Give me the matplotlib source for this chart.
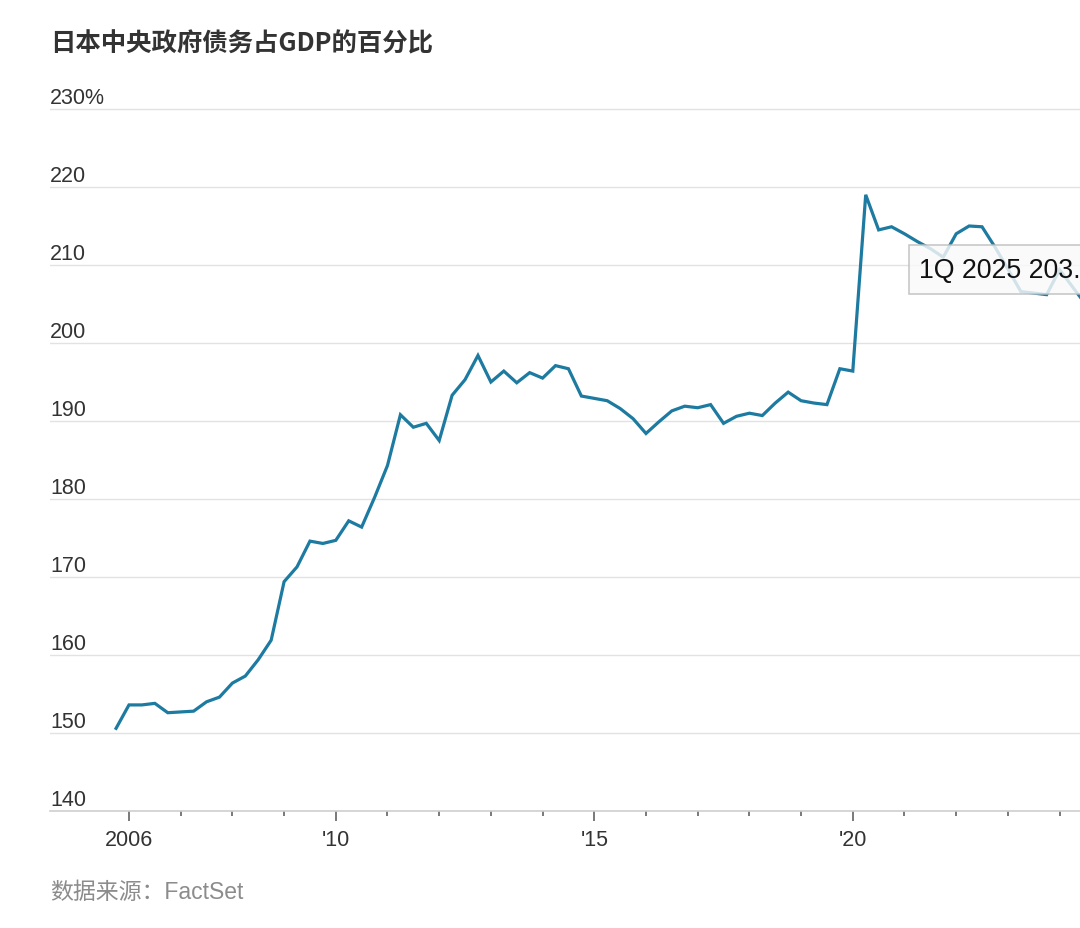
import matplotlib
matplotlib.use("Agg")
import matplotlib.pyplot as plt
import matplotlib.transforms as mtransforms
from matplotlib.patches import Rectangle

plt.rcParams['font.family'] = ['Liberation Sans', 'Noto Sans CJK SC', 'DejaVu Sans']

# quarterly data, 4Q 2005 .. 1Q 2025 (percent of GDP)
start_year = 2005.75
debt_pct = [
    150.6, 153.6, 153.6, 153.8, 152.6, 152.7, 152.8, 154.0, 154.6, 156.4,
    157.3, 159.4, 161.9, 169.4, 171.3, 174.6, 174.3, 174.7, 177.2, 176.4,
    180.2, 184.3, 190.8, 189.2, 189.7, 187.5, 193.3, 195.3, 198.4, 195.0,
    196.4, 194.9, 196.2, 195.5, 197.1, 196.7, 193.2, 192.9, 192.6, 191.6,
    190.3, 188.4, 189.9, 191.3, 191.9, 191.7, 192.1, 189.7, 190.6, 191.0,
    190.7, 192.3, 193.7, 192.6, 192.3, 192.1, 196.7, 196.4, 219.0, 214.5,
    214.9, 214.0, 213.0, 212.1, 211.0, 214.0, 215.0, 214.9, 212.3, 209.5,
    206.6, 206.4, 206.2, 209.4, 207.2, 205.0, 203.8, 203.0,
]
quarters = [start_year + 0.25 * i for i in range(len(debt_pct))]

major_years = [2006, 2010, 2015, 2020]
major_labels = ['2006', "'10", "'15", "'20"]
minor_years = [y for y in range(2006, 2025) if y not in major_years]

y_ticks = [140, 150, 160, 170, 180, 190, 200, 210, 220, 230]
y_labels = ['140', '150', '160', '170', '180', '190', '200', '210', '220', '230%']

title = '日本中央政府债务占GDP的百分比'
source = '数据来源：FactSet'
tooltip = '1Q 2025 203.0%'

W, H = 1080, 929
fig = plt.figure(figsize=(W / 100, H / 100), dpi=100)
fig.patch.set_facecolor('white')

# axes placed in pixel terms; runs past the right edge like the cropped original
ax = fig.add_axes([50 / W, (H - 812) / H, 1077 / W, (812 - 94.4) / H])
ax.set_xlim(2004.472, 2025.304)
ax.set_ylim(140, 232)

ax.plot(quarters, debt_pct, color='#1d7aa0', lw=2.3, solid_joinstyle='miter',
        zorder=3)

for s in ['top', 'right', 'left']:
    ax.spines[s].set_visible(False)
ax.spines['bottom'].set_color('#cfcfcf')
ax.spines['bottom'].set_linewidth(1.2)

ax.set_yticks(y_ticks)
ax.set_yticklabels([])
ax.tick_params(axis='y', length=0)
ax.grid(axis='y', color='#e2e2e2', lw=1)
ax.set_axisbelow(True)

ax.set_xticks(major_years)
ax.set_xticklabels(major_labels, fontsize=15.5, color='#333333')
ax.set_xticks(minor_years, minor=True)
ax.tick_params(axis='x', which='major', length=7, width=1.1, color='#555555',
               pad=6)
ax.tick_params(axis='x', which='minor', length=3.5, width=1.1, color='#555555')

# y labels sit on top of the gridlines, left aligned
trans = mtransforms.blended_transform_factory(ax.transAxes, ax.transData)
offset = mtransforms.ScaledTranslation(0, 0.5 / 72, fig.dpi_scale_trans)
for v, lab in zip(y_ticks, y_labels):
    ax.text(0, v, lab, transform=trans + offset, ha='left', va='bottom',
            fontsize=15.5, color='#333333')

fig.text(50 / W, 1 - 44 / H, title, fontsize=18.3, fontweight='bold',
         family=['Noto Sans CJK SC'], color='#333333', ha='left', va='center')
fig.text(50 / W, 1 - 893 / H, source, fontsize=16.5, color='#8c8c8c',
         ha='left', va='center')

# hover tooltip, cut off at the right edge
box = Rectangle((909 / W, 1 - 295 / H), 0.2, 49 / H, transform=fig.transFigure,
                facecolor='#fafafa', alpha=0.82, edgecolor='#bdbdbd', lw=1.2,
                zorder=5)
fig.add_artist(box)
fig.text(919 / W, 1 - 271 / H, tooltip, fontsize=19.3, color='#111111',
         ha='left', va='center', zorder=6)

fig.savefig('out.png', dpi=100)
